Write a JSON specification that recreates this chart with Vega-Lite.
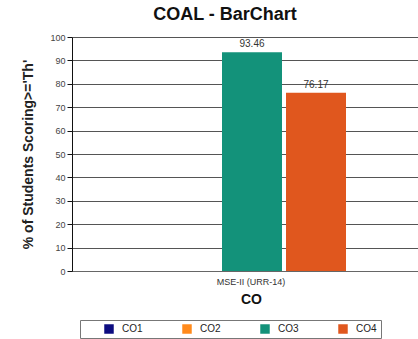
{
  "$schema": "https://vega.github.io/schema/vega-lite/v6.json",
  "autosize": "none",
  "width": 358,
  "height": 234,
  "padding": {"left": 72, "top": 37, "right": 0, "bottom": 68},
  "background": "white",
  "title": {"text": "COAL - BarChart", "font": "Liberation Sans", "fontSize": 18, "fontWeight": "bold", "color": "#111", "anchor": "middle", "dx": -26, "offset": 9},
  "config": {
    "view": {"stroke": null},
    "font": "Liberation Sans"
  },
  "data": {
    "values": [
      {"assessment": "MSE-II (URR-14)", "co": "CO3", "value": 93.46},
      {"assessment": "MSE-II (URR-14)", "co": "CO4", "value": 76.17}
    ]
  },
  "encoding": {
    "x": {
      "field": "assessment", "type": "nominal",
      "scale": {"paddingInner": 0, "paddingOuter": 0},
      "axis": {"title": "CO", "titleFontSize": 14, "titleFontWeight": "bold", "titleColor": "#111", "titlePadding": 6, "labelAngle": 0, "labelFontSize": 9, "labelColor": "#333", "ticks": false, "domainColor": "#666", "labelPadding": 6}
    },
    "xOffset": {"field": "co", "type": "nominal", "scale": {"domain": ["CO1", "CO2", "CO3", "CO4"], "range": [22, 274], "paddingInner": 0.0625, "paddingOuter": 0}},
    "y": {
      "field": "value", "type": "quantitative",
      "scale": {"domain": [0, 100]},
      "axis": {"title": "% of Students Scoring>='Th'", "titleFontSize": 14, "titleFontWeight": "bold", "titleColor": "#222", "titlePadding": 14, "values": [0,10,20,30,40,50,60,70,80,90,100], "labelFontSize": 9, "labelColor": "#444", "labelOverlap": false, "grid": true, "gridColor": "#555", "gridWidth": 1, "domainColor": "#111", "tickColor": "#111", "tickSize": 5}
    }
  },
  "layer": [
    {
      "mark": {"type": "bar"},
      "encoding": {
        "color": {
          "field": "co", "type": "nominal",
          "scale": {"domain": ["CO1", "CO2", "CO3", "CO4"], "range": ["#0c0c80", "#ff8a1c", "#13927a", "#e0571e"]},
          "legend": {"orient": "none", "legendX": 8, "legendY": 283, "direction": "horizontal", "title": null, "symbolType": "square", "symbolSize": 90, "symbolStrokeWidth": 0, "labelFontSize": 10, "labelColor": "#222", "columnPadding": 19, "padding": 4, "symbolOffset": 20, "strokeColor": "#777", "labelOffset": 8}
        }
      }
    },
    {
      "mark": {"type": "text", "baseline": "bottom", "dy": -3, "fontSize": 10, "color": "#333"},
      "encoding": {
        "text": {"field": "value", "type": "quantitative", "format": ".2f"}
      }
    }
  ]
}
